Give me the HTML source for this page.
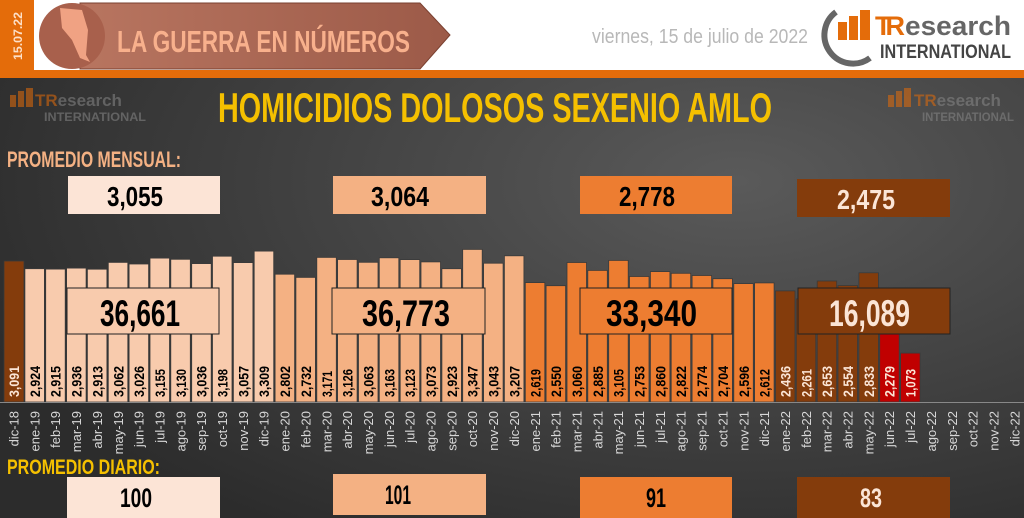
<!DOCTYPE html>
<html><head><meta charset="utf-8"><style>
html,body{margin:0;padding:0;width:1024px;height:518px;overflow:hidden;background:#3a3a3a}
svg{display:block}
.c{font-family:"Liberation Sans Narrow","Liberation Sans",sans-serif;font-weight:bold}
</style></head><body>
<svg width="1024" height="518" viewBox="0 0 1024 518" xmlns="http://www.w3.org/2000/svg">
<defs>
<radialGradient id="bg" cx="0.72" cy="0.35" r="0.8">
<stop offset="0" stop-color="#5a5a5a"/><stop offset="0.6" stop-color="#3e3e3e"/><stop offset="1" stop-color="#2c2c2c"/>
</radialGradient>
<linearGradient id="ban" x1="0" x2="1"><stop offset="0" stop-color="#b87560"/><stop offset="1" stop-color="#9c5a48"/></linearGradient>
</defs>
<rect x="0" y="0" width="1024" height="518" fill="url(#bg)"/>
<rect x="0" y="0" width="1024" height="70" fill="#ffffff"/>
<rect x="0" y="70" width="1024" height="8" fill="#e46c0a"/>
<rect x="0" y="0" width="34" height="78" fill="#e46c0a"/>
<text transform="translate(22,60) rotate(-90)" class="c" font-size="12" fill="#fde0c8" textLength="48" lengthAdjust="spacingAndGlyphs">15.07.22</text>
<polygon points="80,3 420,3 450,35 420,69 80,69" fill="url(#ban)" stroke="#7a4030" stroke-width="1"/>
<circle cx="72" cy="36" r="33" fill="#a8604c"/>
<polygon points="60,8 82,10 88,30 86,55 90,62 80,58 72,40 62,28" fill="#f0a283"/>
<text x="117" y="52" class="c" font-size="31" fill="#f8b08c" textLength="293" lengthAdjust="spacingAndGlyphs">LA GUERRA EN NÚMEROS</text>
<text x="592" y="43" font-family="Liberation Sans Narrow,Liberation Sans,sans-serif" font-size="20" fill="#b8b8b8" textLength="216" lengthAdjust="spacingAndGlyphs">viernes, 15 de julio de 2022</text>
<path d="M836,12 A28,28 0 0 0 870,58" fill="none" stroke="#666" stroke-width="6"/>
<rect x="838" y="22" width="9" height="18" fill="#e46c0a"/><rect x="849" y="16" width="9" height="24" fill="#e46c0a"/><rect x="860" y="10" width="10" height="30" fill="#e46c0a"/>
<text x="875" y="35" font-family="Liberation Sans,sans-serif" font-weight="bold" font-size="27" fill="#e46c0a" textLength="30">TR</text>
<text x="905" y="35" font-family="Liberation Sans,sans-serif" font-weight="bold" font-size="27" fill="#666" textLength="106" lengthAdjust="spacingAndGlyphs">esearch</text>
<text x="880" y="58" class="c" font-size="19" fill="#444" textLength="131" lengthAdjust="spacingAndGlyphs">INTERNATIONAL</text>
<g opacity="0.55">
<rect x="10" y="95" width="6" height="12" fill="#e46c0a"/><rect x="18" y="91" width="6" height="16" fill="#e46c0a"/><rect x="26" y="88" width="7" height="19" fill="#e46c0a"/>
<text x="35" y="106" font-family="Liberation Sans,sans-serif" font-weight="bold" font-size="17" fill="#e46c0a">TR<tspan fill="#888">esearch</tspan></text>
<text x="44" y="121" class="c" font-size="12" fill="#888" textLength="102" lengthAdjust="spacingAndGlyphs">INTERNATIONAL</text>
<rect x="888" y="95" width="6" height="12" fill="#e46c0a"/><rect x="896" y="91" width="6" height="16" fill="#e46c0a"/><rect x="904" y="88" width="7" height="19" fill="#e46c0a"/>
<text x="914" y="106" font-family="Liberation Sans,sans-serif" font-weight="bold" font-size="17" fill="#e46c0a">TR<tspan fill="#888">esearch</tspan></text>
<text x="922" y="121" class="c" font-size="12" fill="#888" textLength="92" lengthAdjust="spacingAndGlyphs">INTERNATIONAL</text>
</g>
<text x="218" y="122" class="c" font-size="42" fill="#f5c000" textLength="554" lengthAdjust="spacingAndGlyphs">HOMICIDIOS DOLOSOS SEXENIO AMLO</text>
<text x="7" y="167" class="c" font-size="22" fill="#f4b183" textLength="174" lengthAdjust="spacingAndGlyphs">PROMEDIO MENSUAL:</text>
<rect x="68" y="176" width="152" height="38" fill="#fce4d6"/>
<text x="107" y="206" class="c" font-size="28" fill="#000" textLength="56" lengthAdjust="spacingAndGlyphs">3,055</text>
<rect x="333" y="176" width="153" height="38" fill="#f4b183"/>
<text x="371" y="206" class="c" font-size="28" fill="#000" textLength="58" lengthAdjust="spacingAndGlyphs">3,064</text>
<rect x="580" y="176" width="152" height="38" fill="#ed7d31"/>
<text x="619" y="206" class="c" font-size="28" fill="#000" textLength="56" lengthAdjust="spacingAndGlyphs">2,778</text>
<rect x="797" y="179" width="153" height="38" fill="#843c0c"/>
<text x="837" y="209" class="c" font-size="28" fill="#fbe5d6" textLength="58" lengthAdjust="spacingAndGlyphs">2,475</text>
<g stroke="#3a3a3a" stroke-width="0.8">
<rect x="4" y="261" width="20" height="141" fill="#843c0c"/>
<rect x="24.9" y="268.7" width="19.5" height="133.3" fill="#f8cbad"/>
<rect x="45.7" y="269.1" width="19.5" height="132.9" fill="#f8cbad"/>
<rect x="66.6" y="268.1" width="19.5" height="133.9" fill="#f8cbad"/>
<rect x="87.4" y="269.2" width="19.5" height="132.8" fill="#f8cbad"/>
<rect x="108.3" y="262.4" width="19.5" height="139.6" fill="#f8cbad"/>
<rect x="129.1" y="264" width="19.5" height="138" fill="#f8cbad"/>
<rect x="150" y="258.1" width="19.5" height="143.9" fill="#f8cbad"/>
<rect x="170.8" y="259.3" width="19.5" height="142.7" fill="#f8cbad"/>
<rect x="191.7" y="263.6" width="19.5" height="138.4" fill="#f8cbad"/>
<rect x="212.5" y="256.2" width="19.5" height="145.8" fill="#f8cbad"/>
<rect x="233.4" y="262.6" width="19.5" height="139.4" fill="#f8cbad"/>
<rect x="254.2" y="251.1" width="19.5" height="150.9" fill="#f8cbad"/>
<rect x="275.1" y="274.2" width="19.5" height="127.8" fill="#f4b183"/>
<rect x="295.9" y="277.4" width="19.5" height="124.6" fill="#f4b183"/>
<rect x="316.8" y="257.4" width="19.5" height="144.6" fill="#f4b183"/>
<rect x="337.6" y="259.5" width="19.5" height="142.5" fill="#f4b183"/>
<rect x="358.5" y="262.3" width="19.5" height="139.7" fill="#f4b183"/>
<rect x="379.3" y="257.8" width="19.5" height="144.2" fill="#f4b183"/>
<rect x="400.2" y="259.6" width="19.5" height="142.4" fill="#f4b183"/>
<rect x="421" y="261.9" width="19.5" height="140.1" fill="#f4b183"/>
<rect x="441.9" y="268.7" width="19.5" height="133.3" fill="#f4b183"/>
<rect x="462.7" y="249.4" width="19.5" height="152.6" fill="#f4b183"/>
<rect x="483.6" y="263.2" width="19.5" height="138.8" fill="#f4b183"/>
<rect x="504.4" y="255.8" width="19.5" height="146.2" fill="#f4b183"/>
<rect x="525.3" y="282.6" width="19.5" height="119.4" fill="#ed7d31"/>
<rect x="546.1" y="285.7" width="19.5" height="116.3" fill="#ed7d31"/>
<rect x="567" y="262.5" width="19.5" height="139.5" fill="#ed7d31"/>
<rect x="587.8" y="270.4" width="19.5" height="131.6" fill="#ed7d31"/>
<rect x="608.7" y="260.4" width="19.5" height="141.6" fill="#ed7d31"/>
<rect x="629.5" y="276.5" width="19.5" height="125.5" fill="#ed7d31"/>
<rect x="650.4" y="271.6" width="19.5" height="130.4" fill="#ed7d31"/>
<rect x="671.2" y="273.3" width="19.5" height="128.7" fill="#ed7d31"/>
<rect x="692.1" y="275.5" width="19.5" height="126.5" fill="#ed7d31"/>
<rect x="712.9" y="278.7" width="19.5" height="123.3" fill="#ed7d31"/>
<rect x="733.8" y="283.6" width="19.5" height="118.4" fill="#ed7d31"/>
<rect x="754.6" y="282.9" width="19.5" height="119.1" fill="#ed7d31"/>
<rect x="775.5" y="290.9" width="19.5" height="111.1" fill="#843c0c"/>
<rect x="796.3" y="298.9" width="19.5" height="103.1" fill="#843c0c"/>
<rect x="817.2" y="281" width="19.5" height="121" fill="#843c0c"/>
<rect x="838" y="285.5" width="19.5" height="116.5" fill="#843c0c"/>
<rect x="858.9" y="272.8" width="19.5" height="129.2" fill="#843c0c"/>
<rect x="879.7" y="298.1" width="19.5" height="103.9" fill="#c00000"/>
<rect x="900.6" y="353.1" width="19.5" height="48.9" fill="#c00000"/>
</g>
<line x1="0" y1="402.5" x2="1024" y2="402.5" stroke="#888" stroke-width="1"/>
<rect x="67" y="288" width="152" height="46" fill="#f8cbad" stroke="#222" stroke-width="1"/>
<text x="100" y="326" class="c" font-size="37" fill="#000" textLength="80" lengthAdjust="spacingAndGlyphs">36,661</text>
<rect x="332" y="288" width="153" height="46" fill="#f4b183" stroke="#222" stroke-width="1"/>
<text x="362" y="326" class="c" font-size="37" fill="#000" textLength="88" lengthAdjust="spacingAndGlyphs">36,773</text>
<rect x="580" y="288" width="152" height="46" fill="#ed7d31" stroke="#222" stroke-width="1"/>
<text x="606" y="326" class="c" font-size="37" fill="#000" textLength="91" lengthAdjust="spacingAndGlyphs">33,340</text>
<rect x="798" y="288" width="152" height="46" fill="#843c0c" stroke="#222" stroke-width="1"/>
<text x="829" y="326" class="c" font-size="37" fill="#fbe5d6" textLength="81" lengthAdjust="spacingAndGlyphs">16,089</text>
<g class="c" font-size="14" fill="#000">
<text transform="translate(19,397) rotate(-90)" fill="#fbe5d6" textLength="31" lengthAdjust="spacingAndGlyphs">3,091</text>
<text transform="translate(39.9,397) rotate(-90)" textLength="31" lengthAdjust="spacingAndGlyphs">2,924</text>
<text transform="translate(60.7,397) rotate(-90)" textLength="31" lengthAdjust="spacingAndGlyphs">2,915</text>
<text transform="translate(81.6,397) rotate(-90)" textLength="31" lengthAdjust="spacingAndGlyphs">2,936</text>
<text transform="translate(102.4,397) rotate(-90)" textLength="31" lengthAdjust="spacingAndGlyphs">2,913</text>
<text transform="translate(123.3,397) rotate(-90)" textLength="31" lengthAdjust="spacingAndGlyphs">3,062</text>
<text transform="translate(144.1,397) rotate(-90)" textLength="31" lengthAdjust="spacingAndGlyphs">3,026</text>
<text transform="translate(165,397) rotate(-90)" textLength="28" lengthAdjust="spacingAndGlyphs">3,155</text>
<text transform="translate(185.8,397) rotate(-90)" textLength="28" lengthAdjust="spacingAndGlyphs">3,130</text>
<text transform="translate(206.7,397) rotate(-90)" textLength="31" lengthAdjust="spacingAndGlyphs">3,036</text>
<text transform="translate(227.5,397) rotate(-90)" textLength="28" lengthAdjust="spacingAndGlyphs">3,198</text>
<text transform="translate(248.4,397) rotate(-90)" textLength="31" lengthAdjust="spacingAndGlyphs">3,057</text>
<text transform="translate(269.2,397) rotate(-90)" textLength="31" lengthAdjust="spacingAndGlyphs">3,309</text>
<text transform="translate(290.1,397) rotate(-90)" textLength="31" lengthAdjust="spacingAndGlyphs">2,802</text>
<text transform="translate(310.9,397) rotate(-90)" textLength="31" lengthAdjust="spacingAndGlyphs">2,732</text>
<text transform="translate(331.8,397) rotate(-90)" textLength="26" lengthAdjust="spacingAndGlyphs">3,171</text>
<text transform="translate(352.6,397) rotate(-90)" textLength="28" lengthAdjust="spacingAndGlyphs">3,126</text>
<text transform="translate(373.5,397) rotate(-90)" textLength="31" lengthAdjust="spacingAndGlyphs">3,063</text>
<text transform="translate(394.3,397) rotate(-90)" textLength="28" lengthAdjust="spacingAndGlyphs">3,163</text>
<text transform="translate(415.2,397) rotate(-90)" textLength="28" lengthAdjust="spacingAndGlyphs">3,123</text>
<text transform="translate(436,397) rotate(-90)" textLength="31" lengthAdjust="spacingAndGlyphs">3,073</text>
<text transform="translate(456.9,397) rotate(-90)" textLength="31" lengthAdjust="spacingAndGlyphs">2,923</text>
<text transform="translate(477.7,397) rotate(-90)" textLength="31" lengthAdjust="spacingAndGlyphs">3,347</text>
<text transform="translate(498.6,397) rotate(-90)" textLength="31" lengthAdjust="spacingAndGlyphs">3,043</text>
<text transform="translate(519.4,397) rotate(-90)" textLength="31" lengthAdjust="spacingAndGlyphs">3,207</text>
<text transform="translate(540.3,397) rotate(-90)" textLength="28" lengthAdjust="spacingAndGlyphs">2,619</text>
<text transform="translate(561.1,397) rotate(-90)" textLength="31" lengthAdjust="spacingAndGlyphs">2,550</text>
<text transform="translate(582,397) rotate(-90)" textLength="31" lengthAdjust="spacingAndGlyphs">3,060</text>
<text transform="translate(602.8,397) rotate(-90)" textLength="31" lengthAdjust="spacingAndGlyphs">2,885</text>
<text transform="translate(623.7,397) rotate(-90)" textLength="28" lengthAdjust="spacingAndGlyphs">3,105</text>
<text transform="translate(644.5,397) rotate(-90)" textLength="31" lengthAdjust="spacingAndGlyphs">2,753</text>
<text transform="translate(665.4,397) rotate(-90)" textLength="31" lengthAdjust="spacingAndGlyphs">2,860</text>
<text transform="translate(686.2,397) rotate(-90)" textLength="31" lengthAdjust="spacingAndGlyphs">2,822</text>
<text transform="translate(707.1,397) rotate(-90)" textLength="31" lengthAdjust="spacingAndGlyphs">2,774</text>
<text transform="translate(727.9,397) rotate(-90)" textLength="31" lengthAdjust="spacingAndGlyphs">2,704</text>
<text transform="translate(748.8,397) rotate(-90)" textLength="31" lengthAdjust="spacingAndGlyphs">2,596</text>
<text transform="translate(769.6,397) rotate(-90)" textLength="28" lengthAdjust="spacingAndGlyphs">2,612</text>
<g fill="#fbe5d6">
<text transform="translate(790.5,397) rotate(-90)" textLength="31" lengthAdjust="spacingAndGlyphs">2,436</text>
<text transform="translate(811.3,397) rotate(-90)" textLength="28" lengthAdjust="spacingAndGlyphs">2,261</text>
<text transform="translate(832.2,397) rotate(-90)" textLength="31" lengthAdjust="spacingAndGlyphs">2,653</text>
<text transform="translate(853,397) rotate(-90)" textLength="31" lengthAdjust="spacingAndGlyphs">2,554</text>
<text transform="translate(873.9,397) rotate(-90)" textLength="31" lengthAdjust="spacingAndGlyphs">2,833</text>
<text transform="translate(894.7,397) rotate(-90)" textLength="31" lengthAdjust="spacingAndGlyphs">2,279</text>
<text transform="translate(915.6,397) rotate(-90)" textLength="28" lengthAdjust="spacingAndGlyphs">1,073</text>
</g>
</g>
<g font-family="Liberation Sans,sans-serif" font-size="13" fill="#d8d8d8" text-anchor="end">
<text transform="translate(18.5,411) rotate(-90)">dic-18</text>
<text transform="translate(39.4,411) rotate(-90)">ene-19</text>
<text transform="translate(60.2,411) rotate(-90)">feb-19</text>
<text transform="translate(81.1,411) rotate(-90)">mar-19</text>
<text transform="translate(101.9,411) rotate(-90)">abr-19</text>
<text transform="translate(122.8,411) rotate(-90)">may-19</text>
<text transform="translate(143.6,411) rotate(-90)">jun-19</text>
<text transform="translate(164.5,411) rotate(-90)">jul-19</text>
<text transform="translate(185.3,411) rotate(-90)">ago-19</text>
<text transform="translate(206.2,411) rotate(-90)">sep-19</text>
<text transform="translate(227,411) rotate(-90)">oct-19</text>
<text transform="translate(247.9,411) rotate(-90)">nov-19</text>
<text transform="translate(268.7,411) rotate(-90)">dic-19</text>
<text transform="translate(289.6,411) rotate(-90)">ene-20</text>
<text transform="translate(310.4,411) rotate(-90)">feb-20</text>
<text transform="translate(331.3,411) rotate(-90)">mar-20</text>
<text transform="translate(352.1,411) rotate(-90)">abr-20</text>
<text transform="translate(373,411) rotate(-90)">may-20</text>
<text transform="translate(393.8,411) rotate(-90)">jun-20</text>
<text transform="translate(414.7,411) rotate(-90)">jul-20</text>
<text transform="translate(435.5,411) rotate(-90)">ago-20</text>
<text transform="translate(456.4,411) rotate(-90)">sep-20</text>
<text transform="translate(477.2,411) rotate(-90)">oct-20</text>
<text transform="translate(498.1,411) rotate(-90)">nov-20</text>
<text transform="translate(518.9,411) rotate(-90)">dic-20</text>
<text transform="translate(539.8,411) rotate(-90)">ene-21</text>
<text transform="translate(560.6,411) rotate(-90)">feb-21</text>
<text transform="translate(581.5,411) rotate(-90)">mar-21</text>
<text transform="translate(602.3,411) rotate(-90)">abr-21</text>
<text transform="translate(623.2,411) rotate(-90)">may-21</text>
<text transform="translate(644,411) rotate(-90)">jun-21</text>
<text transform="translate(664.9,411) rotate(-90)">jul-21</text>
<text transform="translate(685.7,411) rotate(-90)">ago-21</text>
<text transform="translate(706.6,411) rotate(-90)">sep-21</text>
<text transform="translate(727.4,411) rotate(-90)">oct-21</text>
<text transform="translate(748.3,411) rotate(-90)">nov-21</text>
<text transform="translate(769.1,411) rotate(-90)">dic-21</text>
<text transform="translate(790,411) rotate(-90)">ene-22</text>
<text transform="translate(810.8,411) rotate(-90)">feb-22</text>
<text transform="translate(831.7,411) rotate(-90)">mar-22</text>
<text transform="translate(852.5,411) rotate(-90)">abr-22</text>
<text transform="translate(873.4,411) rotate(-90)">may-22</text>
<text transform="translate(894.2,411) rotate(-90)">jun-22</text>
<text transform="translate(915.1,411) rotate(-90)">jul-22</text>
<text transform="translate(935.9,411) rotate(-90)">ago-22</text>
<text transform="translate(956.8,411) rotate(-90)">sep-22</text>
<text transform="translate(977.6,411) rotate(-90)">oct-22</text>
<text transform="translate(998.5,411) rotate(-90)">nov-22</text>
<text transform="translate(1019.3,411) rotate(-90)">dic-22</text>
</g>
<text x="7" y="474" class="c" font-size="21" fill="#f5c000" textLength="153" lengthAdjust="spacingAndGlyphs">PROMEDIO DIARIO:</text>
<rect x="67" y="477" width="153" height="41" fill="#fce4d6"/>
<text x="120" y="507" class="c" font-size="27" fill="#000" textLength="32" lengthAdjust="spacingAndGlyphs">100</text>
<rect x="333" y="474" width="153" height="41" fill="#f4b183"/>
<text x="385" y="504" class="c" font-size="27" fill="#000" textLength="26" lengthAdjust="spacingAndGlyphs">101</text>
<rect x="580" y="477" width="152" height="41" fill="#ed7d31"/>
<text x="646" y="507" class="c" font-size="27" fill="#000" textLength="20" lengthAdjust="spacingAndGlyphs">91</text>
<rect x="797" y="477" width="153" height="41" fill="#843c0c"/>
<text x="860" y="507" class="c" font-size="27" fill="#fbe5d6" textLength="22" lengthAdjust="spacingAndGlyphs">83</text>
</svg>
</body></html>
